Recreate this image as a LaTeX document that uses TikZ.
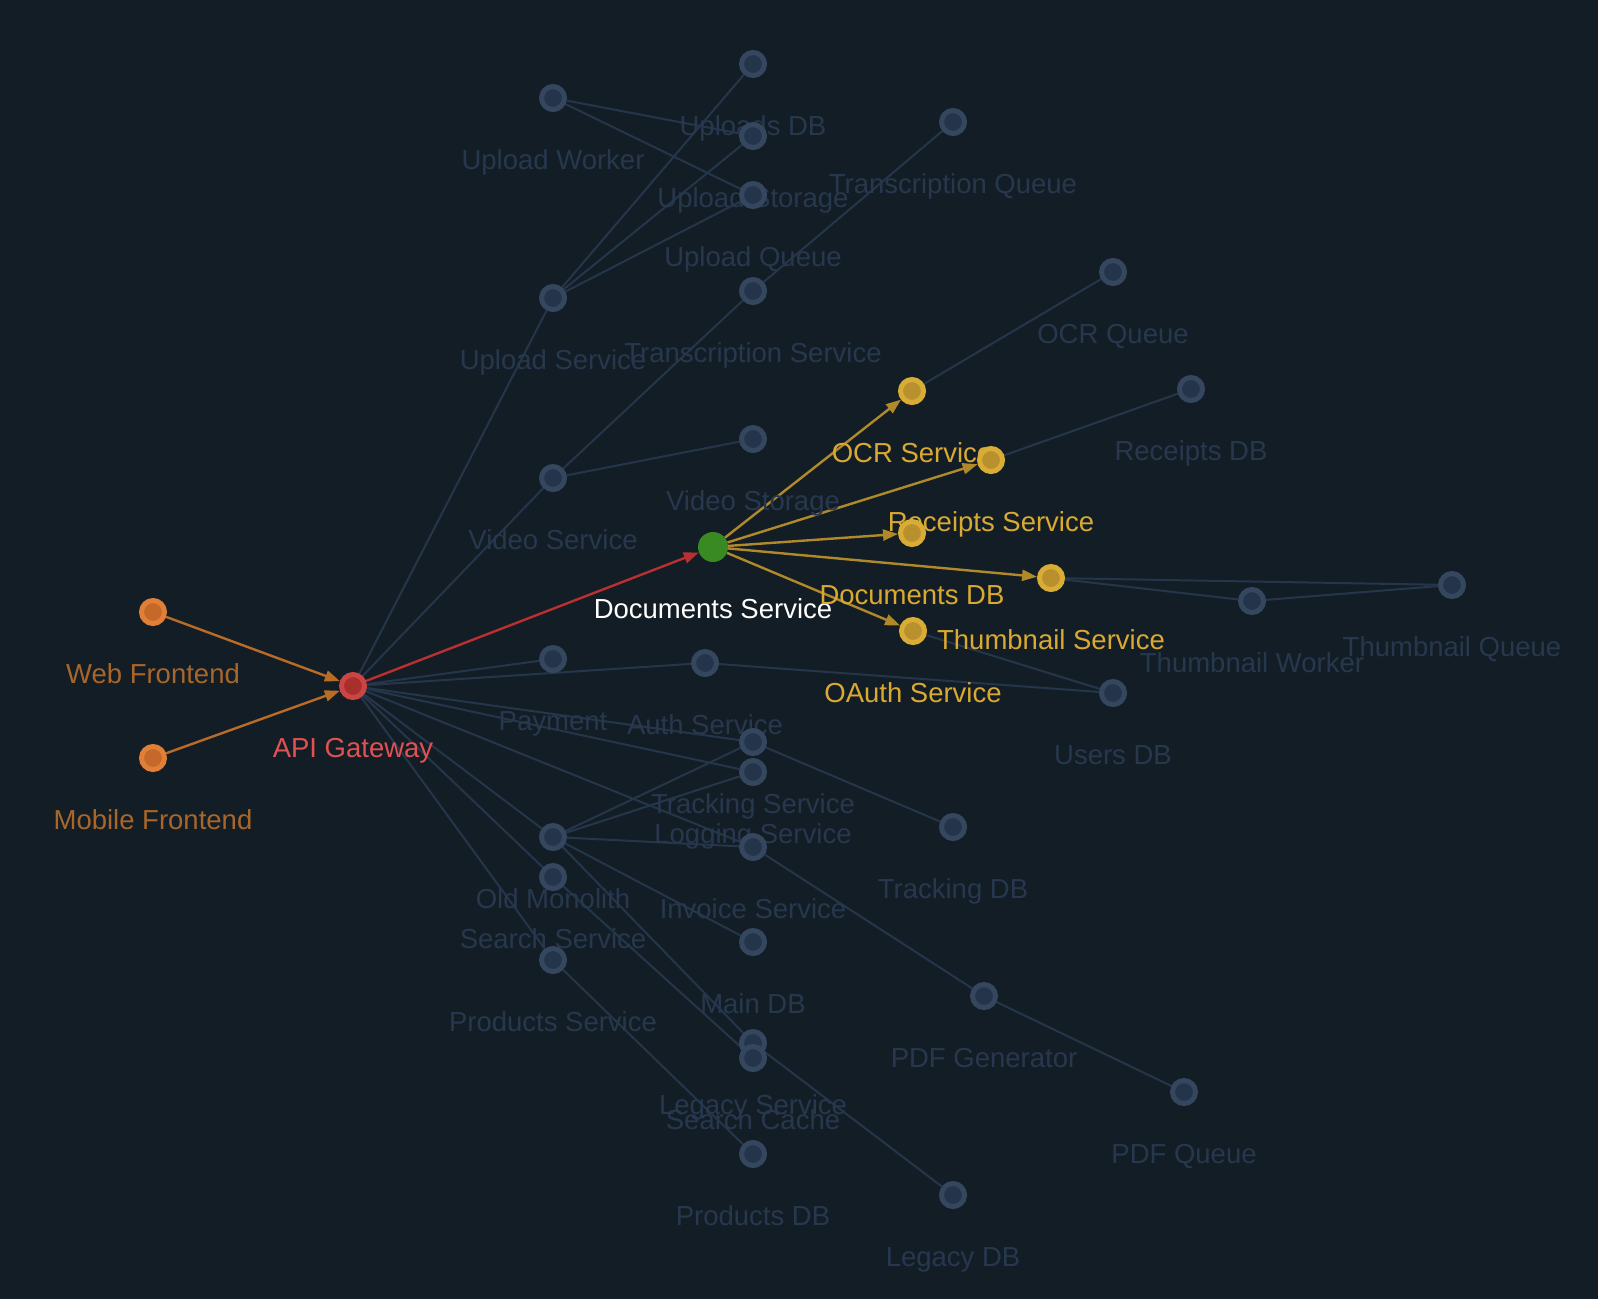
\documentclass[tikz,border=0pt]{standalone}
\usepackage{fontspec}
\setmainfont{Liberation Sans}
\usetikzlibrary{arrows.meta}
\definecolor{bgc}{HTML}{131D25}
\definecolor{gedgec}{HTML}{25364B}
\definecolor{gring}{HTML}{35475F}
\definecolor{ginner}{HTML}{24344A}
\definecolor{gtext}{HTML}{27384E}
\definecolor{oring}{HTML}{E07F35}
\definecolor{oinner}{HTML}{C4692A}
\definecolor{otext}{HTML}{A8662A}
\definecolor{oedge}{HTML}{B86C26}
\definecolor{rring}{HTML}{CC4545}
\definecolor{rinner}{HTML}{A82F2C}
\definecolor{rtext}{HTML}{E05252}
\definecolor{redge}{HTML}{B83030}
\definecolor{yring}{HTML}{D9AD35}
\definecolor{yinner}{HTML}{B8912E}
\definecolor{ytext}{HTML}{D9A932}
\definecolor{yedge}{HTML}{B08A2A}
\definecolor{greenc}{HTML}{3A8A24}
\pgfdeclarelayer{bgfill}
\pgfdeclarelayer{edges}
\pgfdeclarelayer{labels}
\pgfsetlayers{bgfill,edges,labels,main}
\tikzset{
  basenode/.style={circle, line width=5pt, minimum size=23pt, inner sep=0pt},
  gnode/.style={basenode, draw=gring, fill=ginner},
  ynode/.style={basenode, draw=yring, fill=yinner},
  onode/.style={basenode, draw=oring, fill=oinner},
  rnode/.style={basenode, draw=rring, fill=rinner},
  grnode/.style={circle, fill=greenc, minimum size=30pt, inner sep=0pt, draw=none},
  lab/.style={anchor=base, inner sep=0pt, font=\fontsize{27.5}{30}\selectfont},
  glab/.style={lab, text=gtext},
  ylab/.style={lab, text=ytext},
  olab/.style={lab, text=otext},
  gedge/.style={draw=gedgec, line width=2pt},
  tip/.style={-{Triangle[length=15pt,width=11pt]}},
  oarrow/.style={tip, draw=oedge, fill=oedge, line width=2.4pt},
  rarrow/.style={tip, draw=redge, fill=redge, line width=2.4pt},
  yarrow/.style={tip, draw=yedge, fill=yedge, line width=2.4pt},
}
\begin{document}
\begin{tikzpicture}[x=1pt,y=-1pt]
\begin{pgfonlayer}{bgfill}
\fill[bgc] (0,0) rectangle (1598,1299);
\end{pgfonlayer}
\useasboundingbox (0,0) rectangle (1598,1299);

% nodes
\node[onode] (web) at (153,612) {};
\node[onode] (mobile) at (153,758) {};
\node[rnode] (api) at (353,686) {};
\node[grnode] (docs) at (713,547) {};
\node[ynode] (ocr) at (912,391) {};
\node[ynode] (receipts) at (991,460) {};
\node[ynode] (docdb) at (912,533) {};
\node[ynode] (thumb) at (1051,578) {};
\node[ynode] (oauth) at (913,631) {};
\node[gnode] (upworker) at (553,98) {};
\node[gnode] (uploadsdb) at (753,64) {};
\node[gnode] (upstorage) at (753,136) {};
\node[gnode] (upqueue) at (753,195) {};
\node[gnode] (transqueue) at (953,122) {};
\node[gnode] (upsvc) at (553,298) {};
\node[gnode] (transsvc) at (753,291) {};
\node[gnode] (ocrqueue) at (1113,272) {};
\node[gnode] (receiptsdb) at (1191,389) {};
\node[gnode] (vidstorage) at (753,439) {};
\node[gnode] (vidsvc) at (553,478) {};
\node[gnode] (thumbworker) at (1252,601) {};
\node[gnode] (thumbqueue) at (1452,585) {};
\node[gnode] (payment) at (553,659) {};
\node[gnode] (auth) at (705,663) {};
\node[gnode] (usersdb) at (1113,693) {};
\node[gnode] (tracking) at (753,742) {};
\node[gnode] (logging) at (753,772) {};
\node[gnode] (trackingdb) at (953,827) {};
\node[gnode] (monolith) at (553,837) {};
\node[gnode] (search) at (553,877) {};
\node[gnode] (invoice) at (753,847) {};
\node[gnode] (maindb) at (753,942) {};
\node[gnode] (products) at (553,960) {};
\node[gnode] (pdfgen) at (984,996) {};
\node[gnode] (pdfqueue) at (1184,1092) {};
\node[gnode] (legacy) at (753,1043) {};
\node[gnode] (searchcache) at (753,1058) {};
\node[gnode] (productsdb) at (753,1154) {};
\node[gnode] (legacydb) at (953,1195) {};

% labels
\begin{pgfonlayer}{labels}
\node[olab] (l-web) at (153,683) {Web Frontend};
\node[olab] (l-mobile) at (153,829) {Mobile Frontend};
\node[lab, text=rtext] (l-api) at (353,757) {API Gateway};
\node[lab, text=white] (l-docs) at (713,618) {Documents Service};
\node[ylab] (l-ocr) at (912,462) {OCR Service};
\node[ylab] (l-receipts) at (991,531) {Receipts Service};
\node[ylab] (l-docdb) at (912,604) {Documents DB};
\node[ylab] (l-thumb) at (1051,649) {Thumbnail Service};
\node[ylab] (l-oauth) at (913,702) {OAuth Service};
\node[glab] (l-upworker) at (553,169) {Upload Worker};
\node[glab] (l-uploadsdb) at (753,135) {Uploads DB};
\node[glab] (l-upstorage) at (753,207) {Upload Storage};
\node[glab] (l-upqueue) at (753,266) {Upload Queue};
\node[glab] (l-transqueue) at (953,193) {Transcription Queue};
\node[glab] (l-upsvc) at (553,369) {Upload Service};
\node[glab] (l-transsvc) at (753,362) {Transcription Service};
\node[glab] (l-ocrqueue) at (1113,343) {OCR Queue};
\node[glab] (l-receiptsdb) at (1191,460) {Receipts DB};
\node[glab] (l-vidstorage) at (753,510) {Video Storage};
\node[glab] (l-vidsvc) at (553,549) {Video Service};
\node[glab] (l-thumbworker) at (1252,672) {Thumbnail Worker};
\node[glab] (l-thumbqueue) at (1452,656) {Thumbnail Queue};
\node[glab] (l-payment) at (553,730) {Payment};
\node[glab] (l-auth) at (705,734) {Auth Service};
\node[glab] (l-usersdb) at (1113,764) {Users DB};
\node[glab] (l-tracking) at (753,813) {Tracking Service};
\node[glab] (l-logging) at (753,843) {Logging Service};
\node[glab] (l-trackingdb) at (953,898) {Tracking DB};
\node[glab] (l-monolith) at (553,908) {Old Monolith};
\node[glab] (l-search) at (553,948) {Search Service};
\node[glab] (l-invoice) at (753,918) {Invoice Service};
\node[glab] (l-maindb) at (753,1013) {Main DB};
\node[glab] (l-products) at (553,1031) {Products Service};
\node[glab] (l-pdfgen) at (984,1067) {PDF Generator};
\node[glab] (l-pdfqueue) at (1184,1163) {PDF Queue};
\node[glab] (l-legacy) at (753,1114) {Legacy Service};
\node[glab] (l-searchcache) at (753,1129) {Search Cache};
\node[glab] (l-productsdb) at (753,1225) {Products DB};
\node[glab] (l-legacydb) at (953,1266) {Legacy DB};
\end{pgfonlayer}

% edges
\begin{pgfonlayer}{edges}
\draw[gedge] (api) -- (upsvc);
\draw[gedge] (api) -- (vidsvc);
\draw[gedge] (api) -- (payment);
\draw[gedge] (api) -- (auth);
\draw[gedge] (api) -- (tracking);
\draw[gedge] (api) -- (logging);
\draw[gedge] (api) -- (invoice);
\draw[gedge] (api) -- (monolith);
\draw[gedge] (api) -- (search);
\draw[gedge] (api) -- (products);
\draw[gedge] (upsvc) -- (uploadsdb);
\draw[gedge] (upsvc) -- (upstorage);
\draw[gedge] (upsvc) -- (upqueue);
\draw[gedge] (upworker) -- (upstorage);
\draw[gedge] (upworker) -- (upqueue);
\draw[gedge] (vidsvc) -- (transsvc);
\draw[gedge] (vidsvc) -- (vidstorage);
\draw[gedge] (transsvc) -- (transqueue);
\draw[gedge] (ocr) -- (ocrqueue);
\draw[gedge] (receipts) -- (receiptsdb);
\draw[gedge] (thumb) -- (thumbqueue);
\draw[gedge] (thumb) -- (thumbworker);
\draw[gedge] (thumbworker) -- (thumbqueue);
\draw[gedge] (auth) -- (usersdb);
\draw[gedge] (oauth) -- (usersdb);
\draw[gedge] (tracking) -- (trackingdb);
\draw[gedge] (monolith) -- (tracking);
\draw[gedge] (monolith) -- (logging);
\draw[gedge] (monolith) -- (invoice);
\draw[gedge] (monolith) -- (maindb);
\draw[gedge] (monolith) -- (legacy);
\draw[gedge] (search) -- (searchcache);
\draw[gedge] (invoice) -- (pdfgen);
\draw[gedge] (pdfgen) -- (pdfqueue);
\draw[gedge] (legacy) -- (legacydb);
\draw[gedge] (products) -- (productsdb);
\draw[oarrow] (web) -- (api);
\draw[oarrow] (mobile) -- (api);
\draw[rarrow] (api) -- (docs);
\draw[yarrow] (docs) -- (ocr);
\draw[yarrow] (docs) -- (receipts);
\draw[yarrow] (docs) -- (docdb);
\draw[yarrow] (docs) -- (thumb);
\draw[yarrow] (docs) -- (oauth);
\end{pgfonlayer}
\end{tikzpicture}
\end{document}
